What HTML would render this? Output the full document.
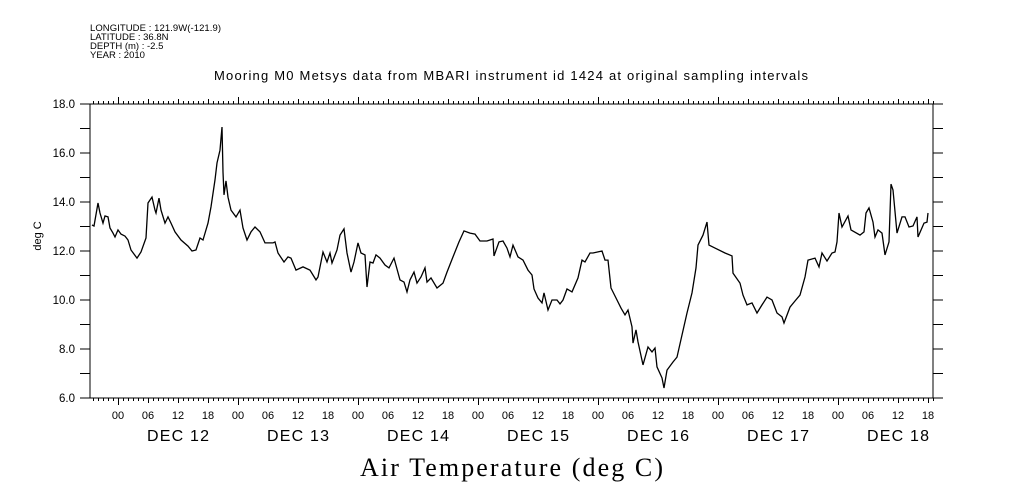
<!DOCTYPE html>
<html><head><meta charset="utf-8"><style>
html,body{margin:0;padding:0;background:#fff;}
svg{display:block;}
text{font-family:"Liberation Sans",sans-serif;fill:#000;}
</style></head><body>
<svg id="chart" width="1009" height="504" viewBox="0 0 1009 504" xmlns="http://www.w3.org/2000/svg">
<g font-size="9.5">
<text x="90" y="31" textLength="131" lengthAdjust="spacing">LONGITUDE : 121.9W(-121.9)</text>
<text x="90" y="40">LATITUDE : 36.8N</text>
<text x="90" y="49">DEPTH (m) : -2.5</text>
<text x="90" y="58">YEAR : 2010</text>
</g>
<text x="214" y="80" textLength="594" lengthAdjust="spacing" font-size="13">Mooring M0 Metsys data from MBARI instrument id 1424 at original sampling intervals</text>
<text transform="translate(41,236) rotate(-90)" text-anchor="middle" font-size="11">deg C</text>
<text x="360" y="476" textLength="303" lengthAdjust="spacing" font-size="26" style="font-family:'Liberation Serif',serif">Air Temperature (deg C)</text>
<g id="axes"></g>
<path id="series" fill="none" stroke="#000" stroke-width="1.3" stroke-linejoin="miter"></path>
</svg>
<script>
// hours relative to DEC 12 00:00
const hours = [-5.2,-4.8,-4.0,-3.6,-3.0,-2.6,-2.0,-1.6,-1.0,-0.6,0,0.6,1.4,2.0,2.6,3.8,4.6,5.6,6.0,6.4,6.8,7.4,7.6,8.2,8.6,9.4,10.0,10.6,11.4,12.6,14.0,14.8,15.6,16.4,17.0,18.0,18.6,19.4,19.8,20.4,20.8,21.0,21.2,21.6,22.0,22.6,23.6,24.4,25.0,25.8,26.6,27.4,28.4,29.4,31.0,31.4,32.0,33.2,34.0,34.6,35.6,37.0,38.4,39.6,40.0,41.0,41.8,42.4,42.8,43.8,44.4,45.2,45.8,46.6,47.2,48.0,48.6,49.4,49.8,50.4,51.0,51.6,52.4,53.4,54.2,55.2,56.4,57.2,57.8,58.4,59.2,59.8,60.6,61.4,61.8,62.6,63.8,65.0,65.8,67.0,68.2,69.2,70.4,71.4,72.4,73.8,75.0,75.2,76.2,77.0,77.8,78.4,79.0,80.0,81.0,82.0,82.8,83.2,84.0,84.8,85.2,86.0,86.8,87.8,88.4,89.0,89.8,90.8,92.0,92.8,93.4,94.4,95.0,96.8,97.4,98.0,98.6,99.8,100.6,101.4,102.0,102.8,103.0,103.6,104.0,105.0,106.0,106.8,107.4,107.8,108.8,109.2,109.8,111.0,111.8,112.8,113.8,114.8,115.6,116.0,117.0,117.8,118.2,119.4,121.4,122.8,123.0,124.4,125.0,125.8,126.8,127.8,128.8,129.8,130.8,131.8,132.8,133.2,134.4,135.4,136.4,137.4,138.0,139.4,140.2,140.8,141.8,142.8,143.4,143.8,144.2,144.8,146.0,146.6,148.4,149.2,149.6,150.2,151.0,151.4,152.0,152.8,153.4,154.2,154.6,155.0,155.8,156.8,157.4,158.2,159.0,159.8,160.0,161.2,161.8,162.0];
const temps = [13.06,13.02,13.96,13.55,13.14,13.43,13.39,12.94,12.73,12.57,12.86,12.69,12.61,12.45,12.04,11.71,11.96,12.53,13.96,14.08,14.20,13.67,13.55,14.16,13.67,13.14,13.39,13.14,12.78,12.45,12.20,12.00,12.04,12.53,12.45,13.14,13.80,14.90,15.59,16.12,17.06,15.22,14.29,14.86,14.20,13.67,13.39,13.67,12.94,12.45,12.78,12.98,12.78,12.33,12.33,12.37,11.92,11.55,11.76,11.71,11.22,11.35,11.22,10.82,10.94,11.96,11.55,11.92,11.51,12.04,12.65,12.90,11.92,11.14,11.55,12.33,11.92,11.84,10.53,11.55,11.51,11.84,11.71,11.43,11.31,11.71,10.82,10.73,10.33,10.82,11.14,10.69,10.94,11.31,10.73,10.90,10.49,10.69,11.14,11.76,12.37,12.82,12.73,12.69,12.41,12.41,12.49,11.80,12.37,12.41,12.12,11.76,12.24,11.76,11.63,11.22,11.02,10.45,10.08,9.88,10.29,9.59,10.00,10.00,9.84,10.00,10.45,10.33,10.90,11.63,11.55,11.92,11.92,12.00,11.63,11.63,10.49,10.00,9.67,9.39,9.59,8.90,8.24,8.78,8.29,7.35,8.08,7.88,8.04,7.27,6.82,6.41,7.14,7.47,7.67,8.57,9.47,10.29,11.31,12.24,12.65,13.18,12.24,12.12,11.92,11.80,11.10,10.69,10.20,9.80,9.88,9.47,9.80,10.12,10.00,9.47,9.31,9.06,9.71,9.96,10.20,10.94,11.63,11.71,11.35,11.92,11.59,11.92,11.96,12.37,13.55,12.98,13.43,12.86,12.65,12.78,13.55,13.76,13.18,12.57,12.86,12.73,11.84,12.37,14.73,14.49,12.73,13.39,13.39,12.98,13.02,13.39,12.57,13.14,13.18,13.55];
const yTickLabels = ["6.0","8.0","10.0","12.0","14.0","16.0","18.0"];
const hourTickLabels = ["00","06","12","18"];
const dayLabels = ["DEC 12","DEC 13","DEC 14","DEC 15","DEC 16","DEC 17","DEC 18"];

const L=90,R=933,T=104,B=398, X0=118, PXH=5, YMIN=6, YMAX=18;
const xs = h => X0 + h*PXH;
const ys = v => B - (v-YMIN)/(YMAX-YMIN)*(B-T);
const NS="http://www.w3.org/2000/svg";
const axes=document.getElementById('axes');
function mk(tag, attrs){const e=document.createElementNS(NS,tag);for(const k in attrs)e.setAttribute(k,attrs[k]);return e;}
let d=`M${L},${T}H${R}V${B}H${L}Z`;
for(let v=YMIN; v<=YMAX; v+=1){const y=ys(v); d+=`M${L-10},${y}H${L}M${R},${y}H${R+10}`;}
const hStart=Math.ceil((L-X0)/PXH), hEnd=Math.floor((R-X0)/PXH);
for(let h=hStart; h<=hEnd; h++){
  const x=xs(h)+0.5; const day=((h%24)+24)%24===0; const six=((h%6)+6)%6===0;
  const len=day?7:(six?5:3);
  d+=`M${x},${T}V${T-len}M${x},${B}V${B+len}`;
}
const ap=mk('path',{d:d,fill:'none',stroke:'#000','stroke-width':1,'shape-rendering':'crispEdges'});


axes.appendChild(ap);
yTickLabels.forEach(s=>{
  const t=mk('text',{x:L-15,y:ys(parseFloat(s))+4,'text-anchor':'end','font-size':11.5});
  
  
  t.textContent=s; axes.appendChild(t);
});
for(let h=Math.ceil(hStart/6)*6; h<=hEnd; h+=6){
  const t=mk('text',{x:xs(h),y:419,'text-anchor':'middle','font-size':11});
  
  
  t.textContent=hourTickLabels[((h/6)%4+4)%4]; axes.appendChild(t);
}
dayLabels.forEach((s,i)=>{
  const t=mk('text',{x:xs(i*24+12)-31,y:441,'font-size':16,textLength:62,lengthAdjust:'spacing'});
  
  
  t.textContent=s; axes.appendChild(t);
});
document.getElementById('series').setAttribute('d', hours.map((h,i)=>(i?'L':'M')+xs(h).toFixed(1)+','+ys(temps[i]).toFixed(1)).join(''));
</script>
</body></html>
